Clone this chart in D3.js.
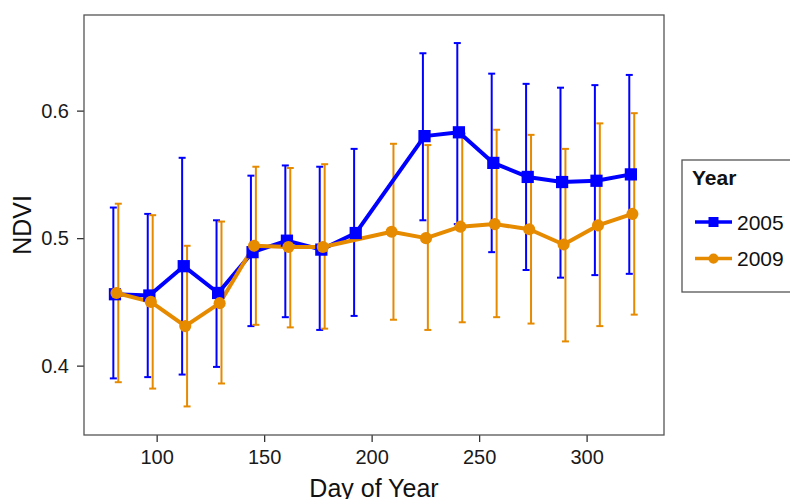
<!DOCTYPE html>
<html>
<head>
<meta charset="utf-8">
<script src="https://cdn.jsdelivr.net/npm/d3@7"></script>
<style>
  body { margin: 0; background: #fff; }
  svg { display: block; font-family: "Liberation Sans", Arial, sans-serif; }
</style>
</head>
<body>
<div id="chart"></div>
<script>
// data
const days2005 = [81, 97, 113, 129, 145, 161, 177, 193, 225, 241, 257, 273, 289, 305, 321];
const ndvi2005 = [0.456, 0.455, 0.478, 0.457, 0.489, 0.498, 0.491, 0.504, 0.580, 0.583, 0.559, 0.548, 0.544, 0.545, 0.550];
const lo2005 = [0.390, 0.391, 0.393, 0.399, 0.431, 0.438, 0.428, 0.439, 0.514, 0.511, 0.489, 0.475, 0.469, 0.471, 0.472];
const hi2005 = [0.524, 0.519, 0.563, 0.514, 0.549, 0.557, 0.556, 0.570, 0.645, 0.653, 0.629, 0.621, 0.618, 0.620, 0.628];

const days2009 = [81, 97, 113, 129, 145, 161, 177, 209, 225, 241, 257, 273, 289, 305, 321];
const ndvi2009 = [0.457, 0.450, 0.431, 0.449, 0.494, 0.493, 0.493, 0.505, 0.500, 0.509, 0.511, 0.507, 0.495, 0.510, 0.519];
const lo2009 = [0.387, 0.382, 0.368, 0.386, 0.432, 0.430, 0.429, 0.436, 0.428, 0.434, 0.438, 0.433, 0.419, 0.431, 0.440];
const hi2009 = [0.527, 0.518, 0.494, 0.513, 0.556, 0.555, 0.558, 0.574, 0.573, 0.582, 0.585, 0.581, 0.570, 0.590, 0.598];

const years = ['2005', '2009'];
const xTicks = [100, 150, 200, 250, 300];
const yTicks = [0.4, 0.5, 0.6];

const width = 790, height = 499;
const margin = { top: 15, left: 84, right: 126, bottom: 64 };
const colors = { '2005': '#0000ff', '2009': '#e68a00' };

const series = [
  { year: '2005', days: days2005, ndvi: ndvi2005, lo: lo2005, hi: hi2005, dodge: -1.15, pDodge: -0.4 },
  { year: '2009', days: days2009, ndvi: ndvi2009, lo: lo2009, hi: hi2009, dodge: 1.15, pDodge: 0.3 },
].map(s => Object.assign(s, {
  rows: s.days.map((d, i) => ({ day: d, v: s.ndvi[i], lo: s.lo[i], hi: s.hi[i] }))
}));

const svg = d3.select('#chart').append('svg')
  .attr('width', width)
  .attr('height', height);

// scales
const x = d3.scaleLinear()
  .domain([66.2, 336])
  .range([margin.left, width - margin.right]);
const y = d3.scaleLinear()
  .domain([0.3456, 0.675])
  .range([height - margin.bottom, margin.top]);

// axes
const xAxis = svg.append('g')
  .attr('transform', `translate(0, ${height - margin.bottom})`)
  .call(d3.axisBottom(x).tickValues(xTicks).tickSize(7).tickPadding(8));
const yAxis = svg.append('g')
  .attr('transform', `translate(${margin.left}, 0)`)
  .call(d3.axisLeft(y).tickValues(yTicks).tickFormat(d3.format('.1f')).tickSize(7).tickPadding(8));
[xAxis, yAxis].forEach(a => {
  a.select('.domain').remove();
  a.selectAll('line').attr('stroke', '#333').attr('stroke-width', 1.3);
  a.selectAll('text').attr('font-size', 20).attr('fill', '#1a1a1a')
    .attr('font-family', '"Liberation Sans", Arial, sans-serif');
});

// error bars
const cap = 3.5;
series.forEach(s => {
  const g = svg.append('g').attr('stroke', colors[s.year]).attr('stroke-width', 2);
  const bars = g.selectAll('g').data(s.rows).enter().append('g')
    .attr('transform', d => `translate(${x(d.day + s.dodge)}, 0)`);
  bars.append('line').attr('y1', d => y(d.lo)).attr('y2', d => y(d.hi));
  bars.append('line').attr('x1', -cap).attr('x2', cap).attr('y1', d => y(d.hi)).attr('y2', d => y(d.hi));
  bars.append('line').attr('x1', -cap).attr('x2', cap).attr('y1', d => y(d.lo)).attr('y2', d => y(d.lo));
});

// lines
const line = s => d3.line().x(d => x(d.day + s.pDodge)).y(d => y(d.v));
series.forEach(s => {
  svg.append('path')
    .datum(s.rows)
    .attr('d', line(s))
    .attr('fill', 'none')
    .attr('stroke', colors[s.year])
    .attr('stroke-width', 4)
    .attr('stroke-linejoin', 'round');
});

// points
series.forEach(s => {
  const sym = d3.symbol().type(s.year === '2005' ? d3.symbolSquare : d3.symbolCircle)
    .size(s.year === '2005' ? 150 : 115);
  svg.append('g').selectAll('path').data(s.rows).enter().append('path')
    .attr('d', sym)
    .attr('transform', d => `translate(${x(d.day + s.pDodge)}, ${y(d.v)})`)
    .attr('fill', colors[s.year]);
});

// panel border
svg.append('rect')
  .attr('x', margin.left)
  .attr('y', margin.top)
  .attr('width', width - margin.left - margin.right)
  .attr('height', height - margin.top - margin.bottom)
  .attr('fill', 'none')
  .attr('stroke', '#555')
  .attr('stroke-width', 1.3);

// axis titles
svg.append('text')
  .text('Day of Year')
  .attr('x', (margin.left + width - margin.right) / 2)
  .attr('y', 497)
  .attr('text-anchor', 'middle')
  .attr('font-size', 25)
  .attr('fill', '#111');
svg.append('text')
  .text('NDVI')
  .attr('transform', `translate(30.5, ${(margin.top + height - margin.bottom) / 2}) rotate(-90)`)
  .attr('text-anchor', 'middle')
  .attr('font-size', 25)
  .attr('fill', '#111');

// legend
const legend = svg.append('g').attr('transform', 'translate(682, 160)');
legend.append('rect')
  .attr('width', 130)
  .attr('height', 132)
  .attr('fill', '#fff')
  .attr('stroke', '#555')
  .attr('stroke-width', 1.3);
legend.append('text')
  .text('Year')
  .attr('x', 10)
  .attr('y', 25)
  .attr('font-size', 21)
  .attr('font-weight', 'bold')
  .attr('fill', '#111');
const items = legend.selectAll('g.item').data(years).enter().append('g')
  .attr('transform', (d, i) => `translate(0, ${62 + i * 36.6})`);
items.append('line')
  .attr('x1', 13).attr('x2', 50)
  .attr('stroke', d => colors[d])
  .attr('stroke-width', 3.5);
items.append('path')
  .attr('d', d => d3.symbol().type(d === '2005' ? d3.symbolSquare : d3.symbolCircle).size(d === '2005' ? 100 : 80)())
  .attr('transform', 'translate(31.5, 0)')
  .attr('fill', d => colors[d]);
items.append('text')
  .text(d => d)
  .attr('x', 55)
  .attr('dy', '0.36em')
  .attr('font-size', 21)
  .attr('fill', '#111');
</script>
</body>
</html>
